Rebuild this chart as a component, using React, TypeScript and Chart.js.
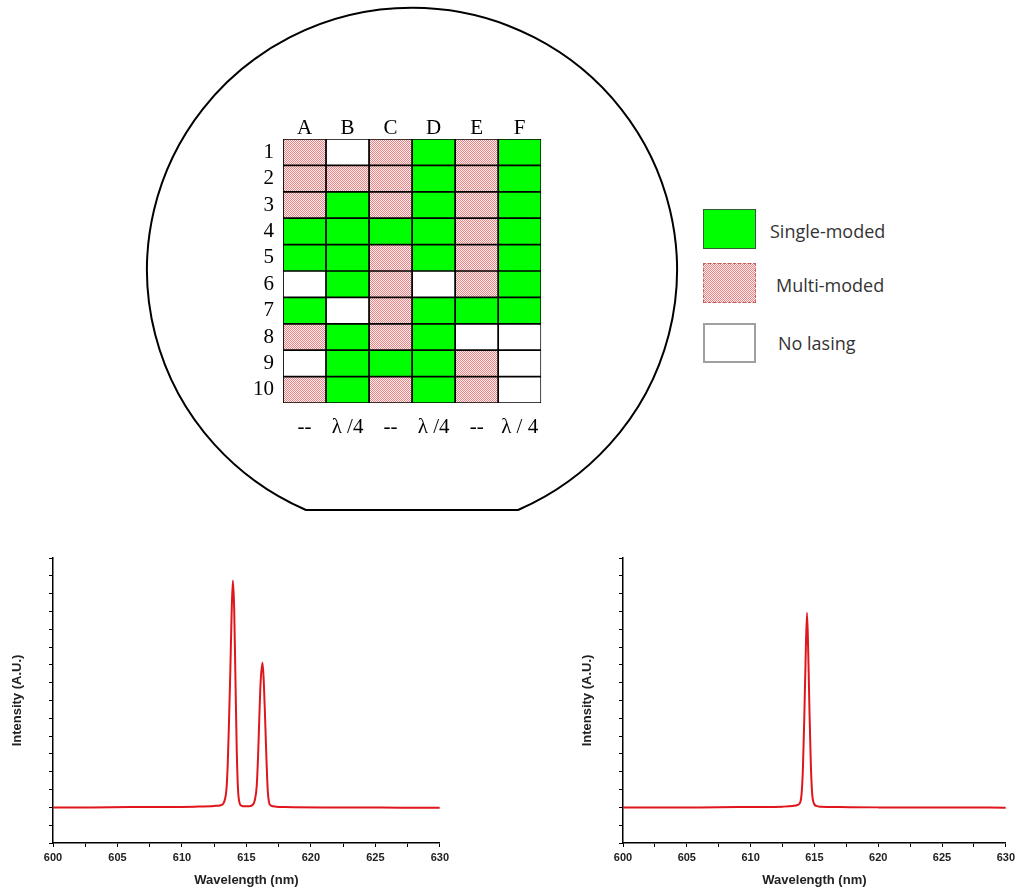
import React, { useEffect, useMemo, useRef } from 'react';
import { Chart, registerables } from 'chart.js';

Chart.register(...registerables);

// ---------- Wafer map data ----------
const gridColumns = ['A', 'B', 'C', 'D', 'E', 'F'];
const gridRows = ['1', '2', '3', '4', '5', '6', '7', '8', '9', '10'];
const columnTreatments = ['--', 'λ /4', '--', 'λ /4', '--', 'λ / 4'];
// S = single-moded, M = multi-moded, N = no lasing
const waferStatus = [
  ['M', 'N', 'M', 'S', 'M', 'S'],
  ['M', 'M', 'M', 'S', 'M', 'S'],
  ['M', 'S', 'M', 'S', 'M', 'S'],
  ['S', 'S', 'S', 'S', 'M', 'S'],
  ['S', 'S', 'M', 'S', 'M', 'S'],
  ['N', 'S', 'M', 'N', 'M', 'S'],
  ['S', 'N', 'M', 'S', 'S', 'S'],
  ['M', 'S', 'M', 'S', 'N', 'N'],
  ['N', 'S', 'S', 'S', 'M', 'N'],
  ['M', 'S', 'M', 'S', 'M', 'N'],
];
const legendLabels = ['Single-moded', 'Multi-moded', 'No lasing'];

// ---------- Spectra ----------
const leftWavelength = [
  600, 603, 606, 609, 611, 612.5, 613.0, 613.2, 613.35, 613.45, 613.55, 613.65,
  613.75, 613.85, 613.95, 614.05, 614.15, 614.25, 614.35, 614.45, 614.6, 614.9,
  615.2, 615.45, 615.65, 615.8, 615.9, 616.0, 616.1, 616.25, 616.35, 616.45,
  616.55, 616.65, 616.75, 616.9, 617.3, 618, 621, 624, 627, 630,
];
const leftIntensity = [
  1.0, 1.0, 1.01, 1.01, 1.02, 1.04, 1.06, 1.1, 1.25, 1.5, 2.2, 3.4,
  4.8, 6.4, 7.37, 6.6, 4.6, 2.6, 1.5, 1.15, 1.05, 1.03,
  1.03, 1.06, 1.2, 1.6, 2.4, 3.5, 4.5, 5.06, 4.5, 3.5,
  2.4, 1.5, 1.15, 1.05, 1.02, 1.01, 1.0, 1.0, 0.99, 0.99,
];
const rightWavelength = [
  600, 603, 606, 609, 611, 612.5, 613.3, 613.7, 613.9, 614.0, 614.1, 614.2,
  614.3, 614.42, 614.52, 614.62, 614.72, 614.82, 614.95, 615.15, 615.5, 617,
  620, 623, 626, 630,
];
const rightIntensity = [
  1.0, 1.0, 1.0, 1.01, 1.01, 1.02, 1.04, 1.07, 1.15, 1.4, 2.1, 3.4,
  5.0, 6.46, 5.3, 3.6, 2.2, 1.4, 1.12, 1.04, 1.02, 1.01,
  1.0, 1.0, 1.0, 0.99,
];
const wavelengthMin = 600;
const wavelengthMax = 630;
const intensityMin = 0;
const intensityMax = 8;

const PINK_A = '#ee8282';
const PINK_B = '#fdf0f0';

function makeTile(): HTMLCanvasElement {
  const tile = document.createElement('canvas');
  tile.width = 2;
  tile.height = 2;
  const tctx = tile.getContext('2d')!;
  tctx.fillStyle = PINK_B;
  tctx.fillRect(0, 0, 2, 2);
  tctx.fillStyle = PINK_A;
  tctx.fillRect(0, 0, 1, 1);
  tctx.fillRect(1, 1, 1, 1);
  return tile;
}

function WaferGrid() {
  const ref = useRef<HTMLCanvasElement>(null);
  useEffect(() => {
    const canvas = ref.current!;
    const pattern = canvas.getContext('2d')!.createPattern(makeTile(), 'repeat')!;
    const colorFor = (s: string): any =>
      s === 'S' ? '#00ff00' : s === 'M' ? pattern : '#ffffff';

    const datasets = waferStatus.map((row, r) => ({
      label: gridRows[r],
      data: gridColumns.map(() => 1),
      backgroundColor: row.map(colorFor),
      borderColor: '#000000',
      borderWidth: 1.2,
      borderSkipped: false as any,
      barPercentage: 1,
      categoryPercentage: 1,
    }));
    const serif = { family: '"Liberation Serif", "Times New Roman", serif', size: 21 };
    const chart = new Chart(canvas, {
      type: 'bar',
      data: { labels: gridColumns, datasets },
      options: {
        responsive: false,
        animation: false,
        layout: { padding: { right: 4, top: 0, bottom: 0, left: 0 } },
        plugins: { legend: { display: false }, tooltip: { enabled: false } },
        scales: {
          x: {
            type: 'category',
            position: 'top',
            stacked: true,
            grid: { display: false, drawTicks: false, tickLength: 0 },
            border: { display: false },
            ticks: { font: serif, color: '#000', padding: -2, maxRotation: 0 },
            afterFit: (s: any) => { s.height = 30; },
          },
          x2: {
            type: 'category',
            position: 'bottom',
            labels: columnTreatments,
            offset: true,
            grid: { display: false, drawTicks: false, tickLength: 0 },
            border: { display: false },
            ticks: { font: serif, color: '#000', padding: 12, maxRotation: 0 },
            afterFit: (s: any) => { s.height = 40; },
          },
          y: {
            type: 'linear',
            position: 'left',
            min: 0,
            max: gridRows.length,
            reverse: true,
            stacked: true,
            grid: { display: false, drawTicks: false, tickLength: 0 },
            border: { display: false },
            afterBuildTicks: (s: any) => {
              s.ticks = gridRows.map((_, i) => ({ value: i + 0.5 }));
            },
            ticks: {
              font: serif,
              color: '#000',
              padding: 9,
              autoSkip: false,
              callback: (v: any) => gridRows[Math.round(Number(v) - 0.5)],
            },
            afterFit: (s: any) => { s.width = 40; },
          },
        },
      } as any,
    });
    return () => chart.destroy();
  }, []);
  return (
    <canvas
      ref={ref}
      width={308}
      height={334}
      style={{ position: 'absolute', left: 243, top: 109, width: 308, height: 334 }}
    />
  );
}

function Spectrum(props: {
  wavelength: number[];
  intensity: number[];
  left: number;
  top: number;
  width: number;
  height: number;
}) {
  const ref = useRef<HTMLCanvasElement>(null);
  const { wavelength, intensity, left, top, width, height } = props;
  useEffect(() => {
    const canvas = ref.current!;
    const bold = { family: '"Liberation Sans", Arial, sans-serif', weight: 'bold' as const };
    const chart = new Chart(canvas, {
      type: 'line',
      data: {
        datasets: [
          {
            data: wavelength.map((w, i) => ({ x: w, y: intensity[i] })),
            borderColor: '#e0161c',
            borderWidth: 2,
            pointRadius: 0,
            cubicInterpolationMode: 'monotone',
            fill: false,
          },
        ],
      },
      options: {
        responsive: false,
        animation: false,
        layout: { padding: { top: 10, right: 10, left: 0, bottom: 0 } },
        plugins: { legend: { display: false }, tooltip: { enabled: false } },
        scales: {
          x: {
            type: 'linear',
            min: wavelengthMin,
            max: wavelengthMax,
            grid: { display: true, drawOnChartArea: false, drawTicks: true, tickLength: 4, color: '#000' },
            border: { display: true, color: '#000', width: 1.5 },
            ticks: {
              stepSize: 2.5,
              autoSkip: false,
              maxRotation: 0,
              padding: 4,
              color: '#222',
              font: { ...bold, size: 11 },
              callback: (v: any) => (Number(v) % 5 === 0 ? String(v) : ''),
            },
            title: {
              display: true,
              text: 'Wavelength (nm)',
              color: '#222',
              font: { ...bold, size: 13 },
              padding: { top: 0, bottom: 0 },
            },
            afterFit: (s: any) => { s.height = 45; },
          },
          y: {
            type: 'linear',
            min: intensityMin,
            max: intensityMax,
            grid: { display: true, drawOnChartArea: false, drawTicks: true, tickLength: 4, color: '#000' },
            border: { display: true, color: '#000', width: 1.5 },
            ticks: { stepSize: 0.5, display: false, autoSkip: false },
            title: {
              display: true,
              text: 'Intensity (A.U.)',
              color: '#222',
              font: { ...bold, size: 13 },
              padding: { top: 10, bottom: 0 },
            },
            afterFit: (s: any) => { s.width = 53; },
          },
        },
      } as any,
    });
    return () => chart.destroy();
  }, []);
  return (
    <canvas
      ref={ref}
      width={width}
      height={height}
      style={{ position: 'absolute', left, top, width, height }}
    />
  );
}

function Legend() {
  const tileUrl = useMemo(() => makeTile().toDataURL(), []);
  const sw: React.CSSProperties = { position: 'absolute', left: 703, width: 53, height: 40, boxSizing: 'border-box' };
  const txt: React.CSSProperties = {
    position: 'absolute',
    fontFamily: '"Open Sans", "Noto Sans", sans-serif',
    fontSize: 18,
    lineHeight: '24px',
    color: '#333',
    whiteSpace: 'nowrap',
  };
  return (
    <>
      <div style={{ ...sw, top: 209, background: '#00ff00', border: '1px solid #2f5f2f' }} />
      <div
        style={{
          ...sw,
          top: 263,
          backgroundColor: '#f7c4c4',
          backgroundImage: `url(${tileUrl})`,
          backgroundRepeat: 'repeat',
          imageRendering: 'pixelated',
          border: '1px dashed #c06060',
        }}
      />
      <div style={{ ...sw, top: 323, background: '#fff', border: '2px solid #a0a0a0' }} />
      <div style={{ ...txt, left: 770, top: 219 }}>{legendLabels[0]}</div>
      <div style={{ ...txt, left: 776, top: 273 }}>{legendLabels[1]}</div>
      <div style={{ ...txt, left: 778, top: 331 }}>{legendLabels[2]}</div>
    </>
  );
}

export default function App() {
  return (
    <div
      style={{
        position: 'absolute',
        left: 0,
        top: 0,
        width: 1019,
        height: 888,
        background: '#fff',
        overflow: 'hidden',
      }}
    >
      <svg width={1019} height={540} style={{ position: 'absolute', left: 0, top: 0 }}>
        <path
          d="M 306 510 A 265 262 0 1 1 518 510 Z"
          fill="none"
          stroke="#000"
          strokeWidth={2}
        />
      </svg>
      <WaferGrid />
      <Legend />
      <Spectrum wavelength={leftWavelength} intensity={leftIntensity} left={0} top={548} width={453} height={340} />
      <Spectrum wavelength={rightWavelength} intensity={rightIntensity} left={570} top={548} width={449} height={340} />
    </div>
  );
}
